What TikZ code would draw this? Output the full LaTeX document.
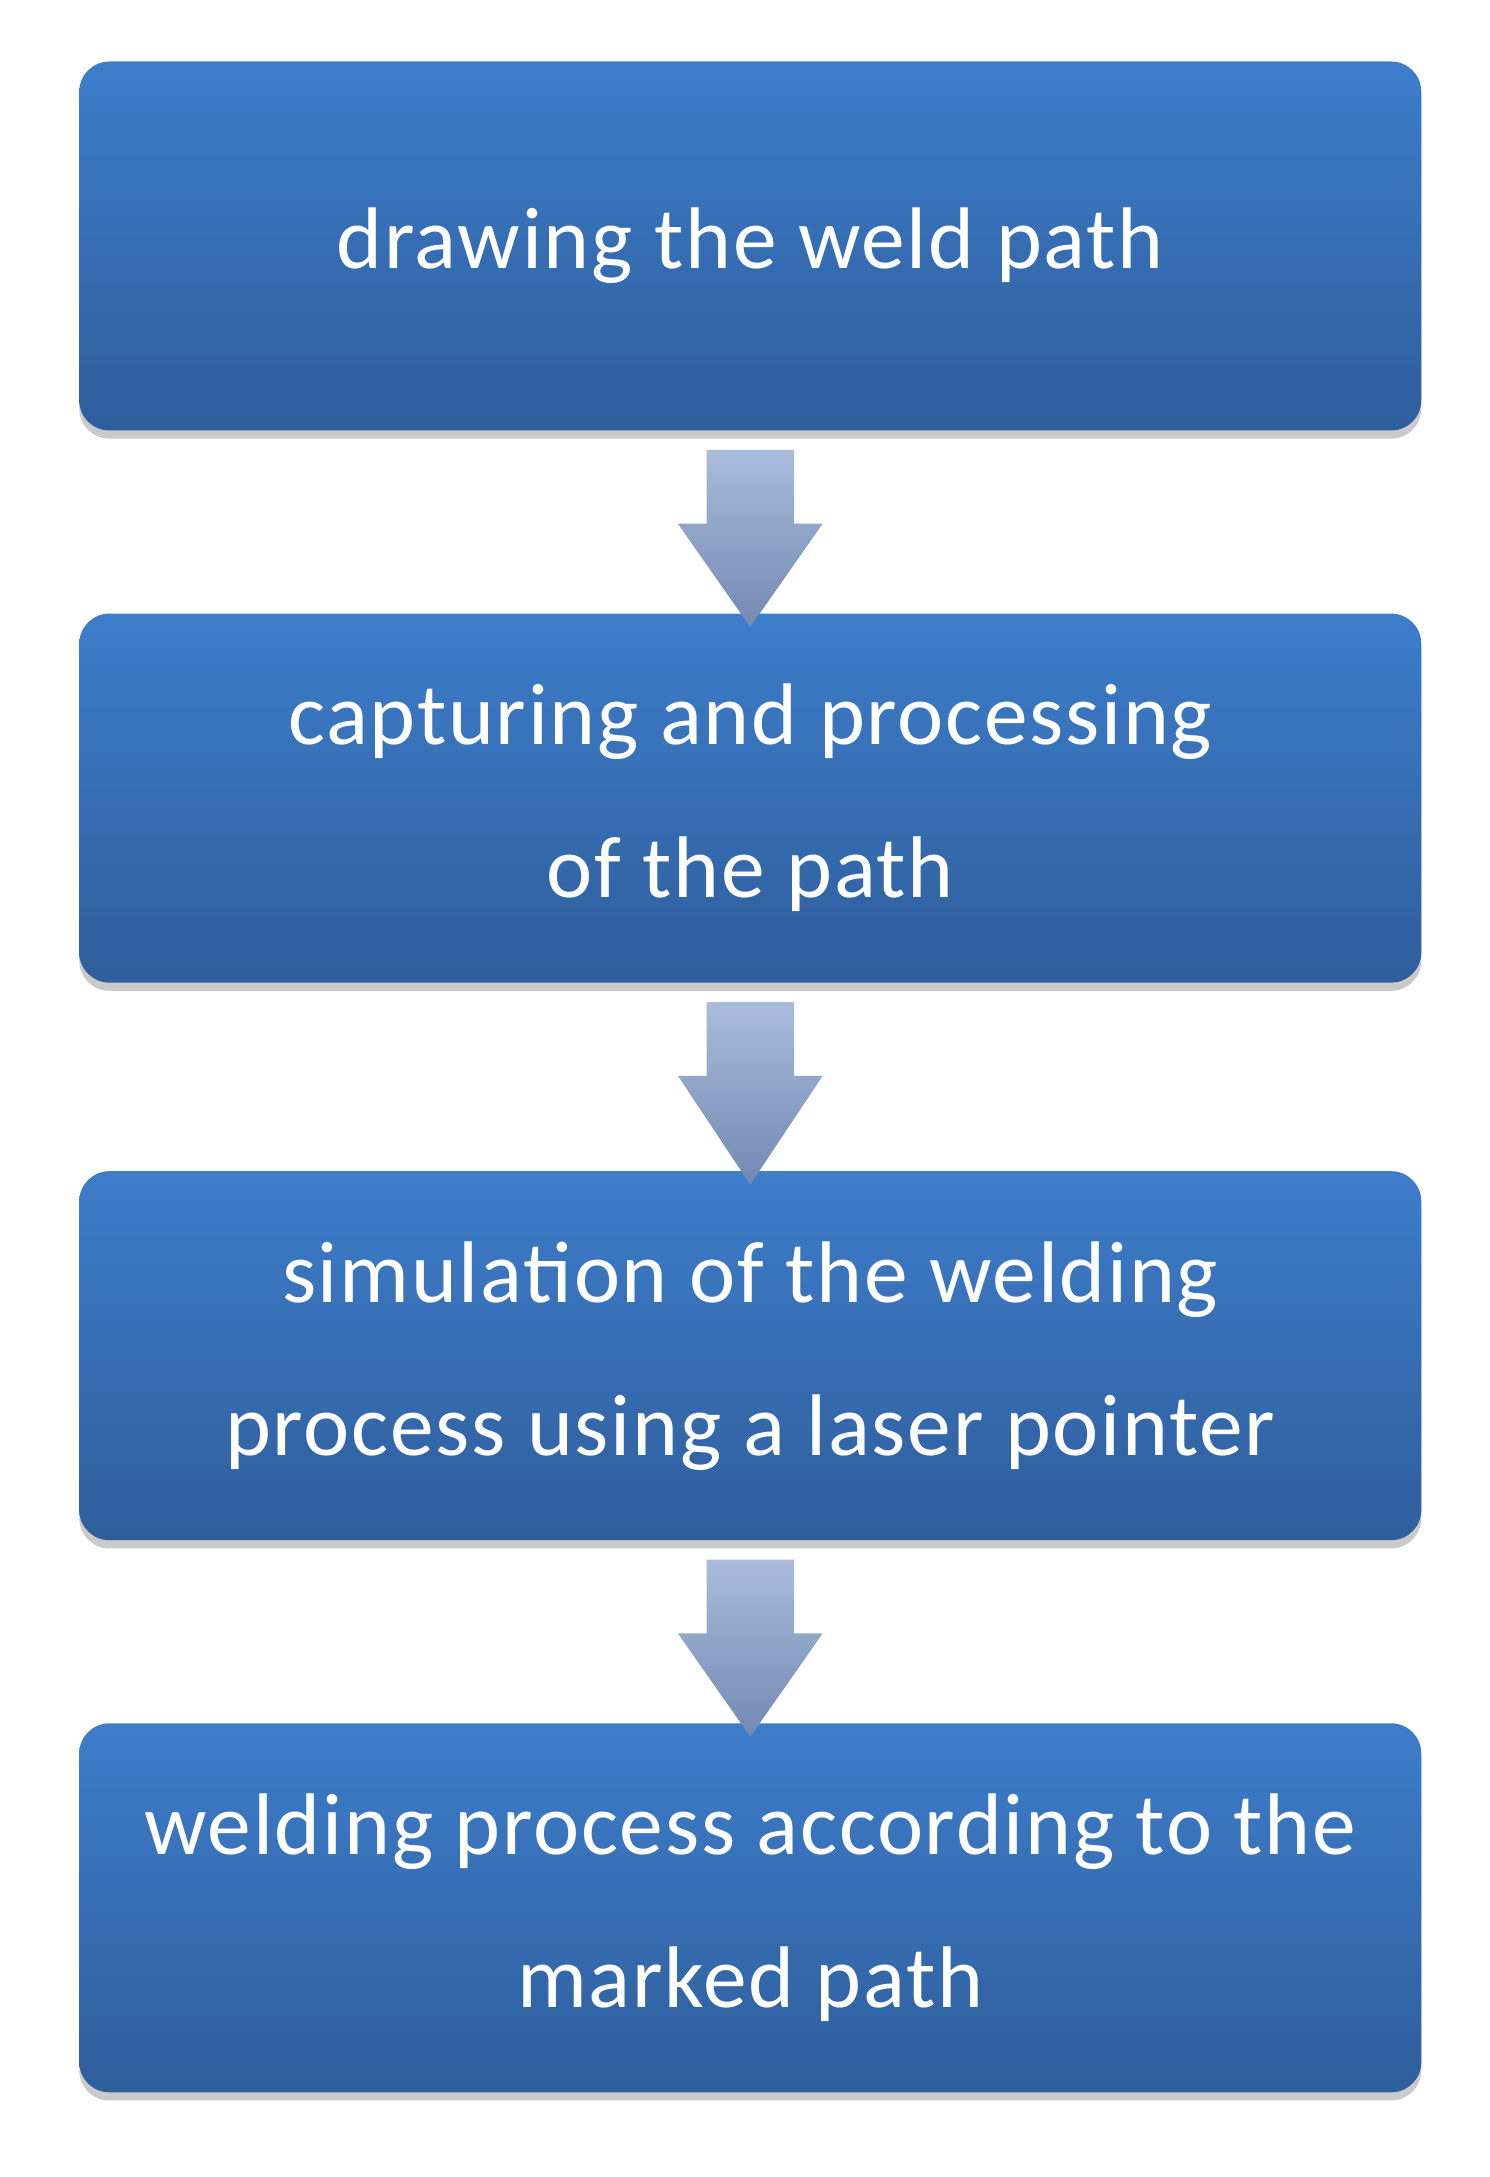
\documentclass[tikz,border=0pt]{standalone}
\usepackage{fontspec}
\setmainfont{Carlito}[LetterSpace=2]
\usetikzlibrary{shadows}
\definecolor{btop}{HTML}{3D7DCA}
\definecolor{bbot}{HTML}{2F5E9C}
\definecolor{atop}{HTML}{A9BCDC}
\definecolor{abot}{HTML}{7489B2}
\begin{document}
\begin{tikzpicture}[x=1pt,y=-1pt,
 box/.style={rounded corners=22pt,minimum width=982pt,minimum height=270pt,
   top color=btop,bottom color=bbot,draw=none,text=white,align=center,
   font=\fontsize{64}{112}\selectfont,
   drop shadow={shadow xshift=0pt,shadow yshift=-6pt,fill=black!35,opacity=0.6}},
 arr/.style={top color=atop,bottom color=abot,draw=none}]
\useasboundingbox (0,0) rectangle (1090,1593);
\node[box] (b1) at (549,180) {drawing the weld path};
\node[box] (b2) at (549,584) {capturing and processing\\of the path};
\node[box] (b3) at (549,992) {simulation of the welding\\process using a laser pointer};
\node[box] (b4) at (549,1396) {welding process according to the\\marked path};
\foreach \a/\b in {b1/b2,b2/b3,b3/b4}{
 \coordinate (s) at ([yshift=-14pt]\a.south);
 \coordinate (t) at ([yshift=-14pt]\b.north);
 \path[arr] ([xshift=-32pt]s) -- ([xshift=32pt]s) -- ([xshift=32pt,yshift=-54pt]s)
   -- ([xshift=53pt,yshift=-54pt]s) -- ([yshift=4pt]t) -- ([xshift=-53pt,yshift=-54pt]s)
   -- ([xshift=-32pt,yshift=-54pt]s) -- cycle;
}
\end{tikzpicture}
\end{document}
